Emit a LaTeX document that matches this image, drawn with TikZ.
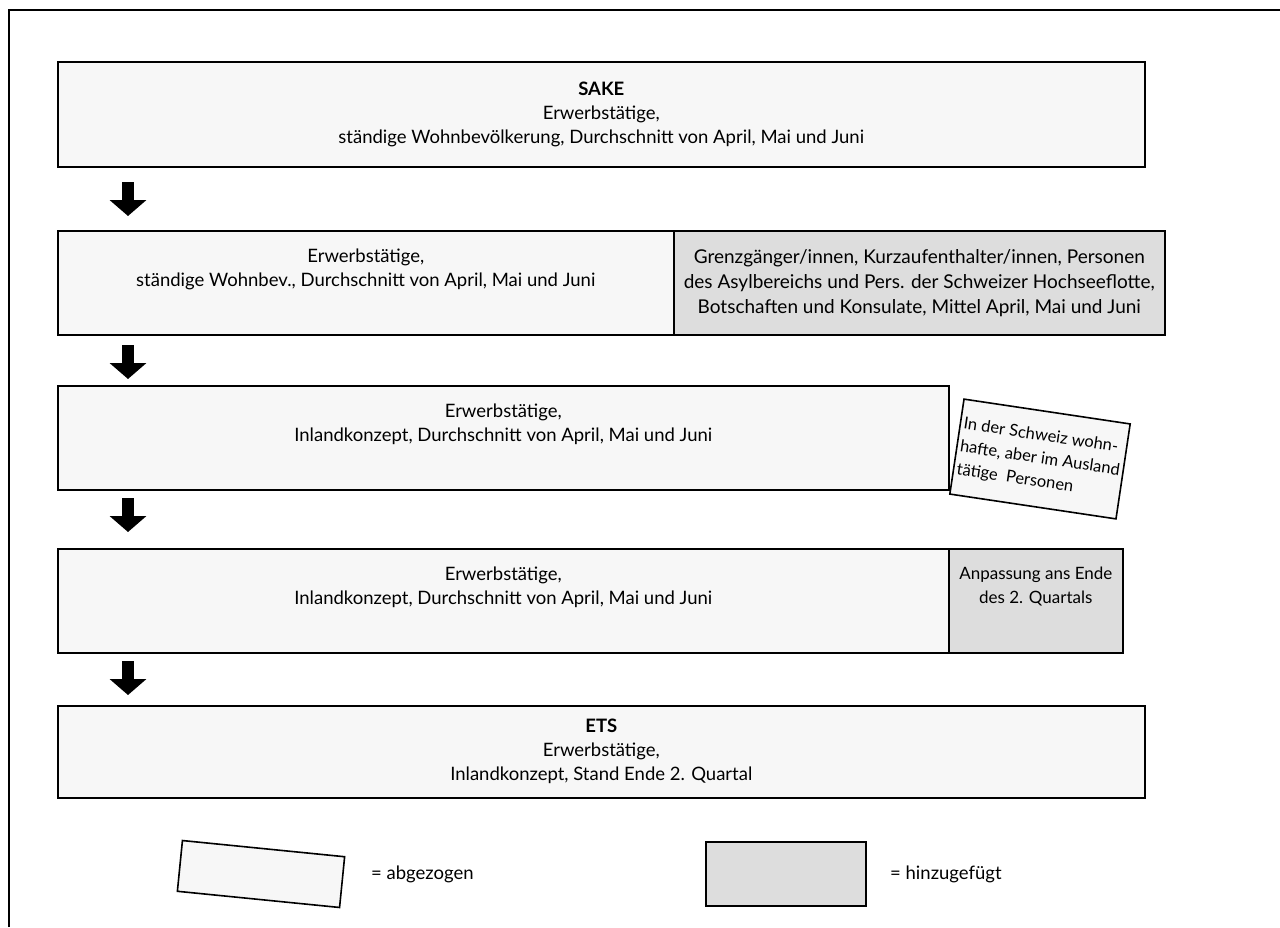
\documentclass[tikz,border=0pt]{standalone}
\usepackage{fontspec}
\setmainfont{Lato}
\usetikzlibrary{arrows.meta}
\definecolor{lightfill}{HTML}{F7F7F7}
\definecolor{grayfill}{HTML}{DDDDDD}
\tikzset{
  box/.style={draw=black, line width=1.6pt, fill=lightfill, inner sep=0pt, align=center,
    font=\fontsize{18.5}{24}\selectfont, anchor=north west},
  addbox/.style={box, fill=grayfill},
  bigarrow/.style={line width=12pt, -{Triangle[width=36pt,length=16pt]}},
  legtext/.style={font=\fontsize{18.5}{24}\selectfont, anchor=west, inner sep=0pt}
}
\begin{document}
\begin{tikzpicture}[x=1pt,y=-1pt]
\useasboundingbox (0,0) rectangle (1280,927);
% outer frame (top and left visible)
\draw[line width=2pt] (8.5,927) -- (8.5,9.5) -- (1280,9.5);

% box 1
\node[box, minimum width=1087pt, minimum height=105pt] (sake) at (57,61)
  {\textbf{SAKE}\\Erwerbstätige,\\ständige Wohnbevölkerung, Durchschnitt von April, Mai und Juni};

% box 2
\node[box, minimum width=616pt, minimum height=104pt] (w2) at (57,230)
  {Erwerbstätige,\\ständige Wohnbev., Durchschnitt von April, Mai und Juni\\\strut};
\node[addbox, minimum width=491pt, minimum height=104pt, font=\fontsize{19}{25}\selectfont] (g2) at (673,230)
  {Grenzgänger/innen, Kurzaufenthalter/innen, Personen\\des Asylbereichs und Pers. der Schweizer Hochseeflotte,\\Botschaften und Konsulate, Mittel April, Mai und Juni};

% box 3
\node[box, minimum width=891pt, minimum height=104pt] (w3) at (57,385)
  {Erwerbstätige,\\Inlandkonzept, Durchschnitt von April, Mai und Juni\\\strut};
\node[box, rotate=-8.5, minimum width=168pt, minimum height=96pt, anchor=center, align=left,
  font=\fontsize{16.5}{23}\selectfont] (aus) at (1040,459)
  {In der Schweiz wohn-\\hafte, aber im Ausland\\tätige\ \ Personen};

% box 4
\node[box, minimum width=891pt, minimum height=104pt] (w4) at (57,548)
  {Erwerbstätige,\\Inlandkonzept, Durchschnitt von April, Mai und Juni\\\strut};
\node[addbox, minimum width=174pt, minimum height=104pt, font=\fontsize{17}{24}\selectfont] (q4) at (948,548)
  {Anpassung ans Ende\\des 2. Quartals\\\strut};

% box 5
\node[box, minimum width=1087pt, minimum height=92pt] (ets) at (57,705)
  {\textbf{ETS}\\Erwerbstätige,\\Inlandkonzept, Stand Ende 2. Quartal};

% arrows
\coordinate (a1s) at (128,182); \coordinate (a1e) at (128,216);
\coordinate (a2s) at (128,345); \coordinate (a2e) at (128,379);
\coordinate (a3s) at (128,498); \coordinate (a3e) at (128,532);
\coordinate (a4s) at (128,661); \coordinate (a4e) at (128,695);
\draw[bigarrow] (a1s) -- (a1e);
\draw[bigarrow] (a2s) -- (a2e);
\draw[bigarrow] (a3s) -- (a3e);
\draw[bigarrow] (a4s) -- (a4e);

% legend
\node[box, rotate=-5.7, minimum width=163pt, minimum height=51pt, anchor=center] (legA) at (261,874) {};
\node[legtext] (legAt) at (371,874) {= abgezogen};
\node[addbox, minimum width=160pt, minimum height=64pt] (legB) at (705,841) {};
\node[legtext] (legBt) at (890,874) {= hinzugefügt};
\end{tikzpicture}
\end{document}
